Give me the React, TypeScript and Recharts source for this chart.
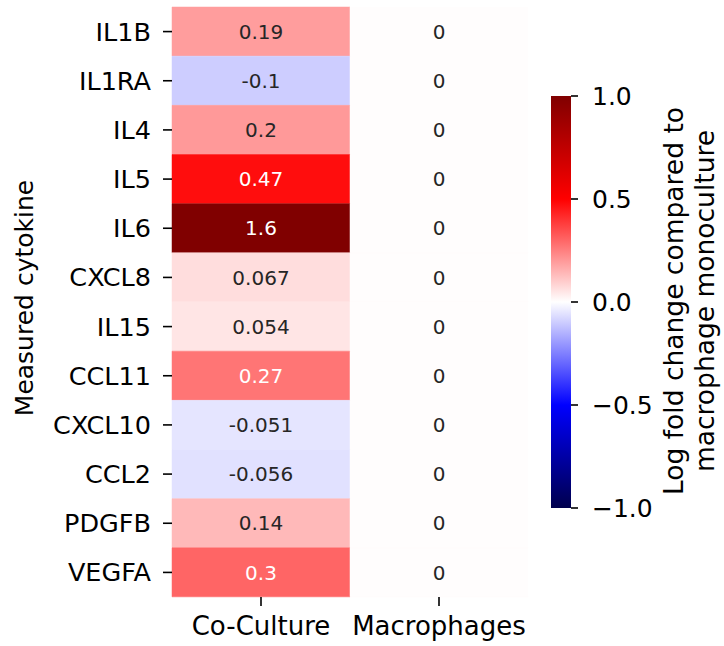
import React from "react";
import { BarChart, Bar, XAxis, YAxis, Cell, LabelList } from "recharts";

const cytokines = ["IL1B", "IL1RA", "IL4", "IL5", "IL6", "CXCL8", "IL15", "CCL11", "CXCL10", "CCL2", "PDGFB", "VEGFA"];
const coCulture = [0.19, -0.1, 0.2, 0.47, 1.6, 0.067, 0.054, 0.27, -0.051, -0.056, 0.14, 0.3];
const macrophages = [0, 0, 0, 0, 0, 0, 0, 0, 0, 0, 0, 0];
const conditions = ["Co-Culture", "Macrophages"];
const cbarTicks = [-1, -0.5, 0, 0.5, 1];

const FONT = "DejaVu Sans";

// matplotlib "seismic", 256-level lookup
const anchors = [
  [0, 0, 0.3],
  [0, 0, 1],
  [1, 1, 1],
  [1, 0, 0],
  [0.5, 0, 0],
];

function seismicRgb(v: number) {
  const t0 = Math.min(1, Math.max(0, (v + 1) / 2));
  const idx = Math.min(255, Math.floor(t0 * 256));
  const t = idx / 255;
  const seg = Math.min(3, Math.floor(t * 4));
  const f = t * 4 - seg;
  const a = anchors[seg];
  const b = anchors[seg + 1];
  return [0, 1, 2].map((k) => a[k] + (b[k] - a[k]) * f);
}

function seismic(v: number) {
  const c = seismicRgb(v).map((x) => Math.round(x * 255));
  return `rgb(${c[0]},${c[1]},${c[2]})`;
}

function textColor(v: number) {
  const lin = seismicRgb(v).map((x) => (x <= 0.03928 ? x / 12.92 : Math.pow((x + 0.055) / 1.055, 2.4)));
  const lum = 0.2126 * lin[0] + 0.7152 * lin[1] + 0.0722 * lin[2];
  return lum > 0.408 ? "#262626" : "#ffffff";
}

const fmt = (v: number) => String(Number(v.toPrecision(2)));

const rows = cytokines.map((name, i) => ({
  name,
  c0: 1,
  c1: 1,
  v0: coCulture[i],
  v1: macrophages[i],
}));

const cellLabel = (props: any) => {
  const { x, y, width, height, value } = props;
  return (
    <text
      x={x + width / 2}
      y={y + height / 2}
      dy="0.36em"
      textAnchor="middle"
      fontSize={20}
      fontFamily={FONT}
      fill={textColor(value)}
    >
      {fmt(value)}
    </text>
  );
};

const YLabel = () => (
  <text
    x={33}
    y={298}
    transform="rotate(-90, 33, 298)"
    textAnchor="middle"
    fontSize={25}
    fontFamily={FONT}
    fill="#000"
  >
    Measured cytokine
  </text>
);

const CbarLabel = () => (
  <g fontSize={26.5} fontFamily={FONT} fill="#000">
    <text x={143} y={301} transform="rotate(-90, 143, 301)" textAnchor="middle">
      Log fold change compared to
    </text>
    <text x={174} y={301} transform="rotate(-90, 174, 301)" textAnchor="middle">
      macrophage monoculture
    </text>
  </g>
);

const cbarData = [{ name: "cbar", range: [-1, 1] }];

export default function App() {
  return (
    <div
      style={{
        position: "fixed",
        left: 0,
        top: 0,
        width: 724,
        height: 646,
        background: "#fff",
        fontFamily: FONT,
      }}
    >
      <div style={{ position: "absolute", left: 0, top: 0 }}>
        <BarChart
          width={540}
          height={646}
          data={rows}
          layout="vertical"
          barCategoryGap={0}
          barGap={0}
          margin={{ top: 7, right: 12, bottom: 0, left: 0 }}
        >
          <XAxis
            type="number"
            domain={[0, 2]}
            ticks={[0.5, 1.5]}
            tickFormatter={(v) => conditions[Math.floor(v)]}
            height={49}
            axisLine={false}
            tickSize={9}
            tickMargin={11}
            tickLine={{ stroke: "#000", strokeWidth: 1.6 }}
            tick={{ fontSize: 26, fill: "#000", fontFamily: FONT }}
          />
          <YAxis
            type="category"
            dataKey="name"
            width={172}
            axisLine={false}
            tickSize={9}
            tickMargin={12}
            tickLine={{ stroke: "#000", strokeWidth: 1.6 }}
            tick={{ fontSize: 25.5, fill: "#000", fontFamily: FONT }}
            label={<YLabel />}
          />
          <Bar dataKey="c0" stackId="s" isAnimationActive={false}>
            {rows.map((r, i) => (
              <Cell key={`a${i}`} fill={seismic(r.v0)} stroke={seismic(r.v0)} strokeWidth={0.5} />
            ))}
            <LabelList dataKey="v0" content={cellLabel} />
          </Bar>
          <Bar dataKey="c1" stackId="s" isAnimationActive={false}>
            {rows.map((r, i) => (
              <Cell key={`b${i}`} fill={seismic(r.v1)} stroke={seismic(r.v1)} strokeWidth={0.5} />
            ))}
            <LabelList dataKey="v1" content={cellLabel} />
          </Bar>
        </BarChart>
      </div>

      <div style={{ position: "absolute", left: 540, top: 0 }}>
        <BarChart
          width={184}
          height={646}
          data={cbarData}
          barCategoryGap={0}
          margin={{ top: 96, right: 0, bottom: 138, left: 11 }}
        >
          <defs>
            <linearGradient id="seismicGrad" x1="0" y1="0" x2="0" y2="1">
              <stop offset="0%" stopColor="#800000" />
              <stop offset="25%" stopColor="#ff0000" />
              <stop offset="50%" stopColor="#ffffff" />
              <stop offset="75%" stopColor="#0000ff" />
              <stop offset="100%" stopColor="#00004d" />
            </linearGradient>
          </defs>
          <XAxis dataKey="name" type="category" hide />
          <YAxis
            type="number"
            orientation="right"
            domain={[-1, 1]}
            ticks={cbarTicks}
            width={153}
            axisLine={false}
            tickSize={7}
            tickMargin={14}
            tickLine={{ stroke: "#000", strokeWidth: 1.6 }}
            tick={{ fontSize: 25, fill: "#000", fontFamily: FONT }}
            tickFormatter={(v) => (v < 0 ? "\u2212" : "") + Math.abs(v).toFixed(1)}
            label={<CbarLabel />}
          />
          <Bar dataKey="range" fill="url(#seismicGrad)" isAnimationActive={false} />
        </BarChart>
      </div>
    </div>
  );
}
